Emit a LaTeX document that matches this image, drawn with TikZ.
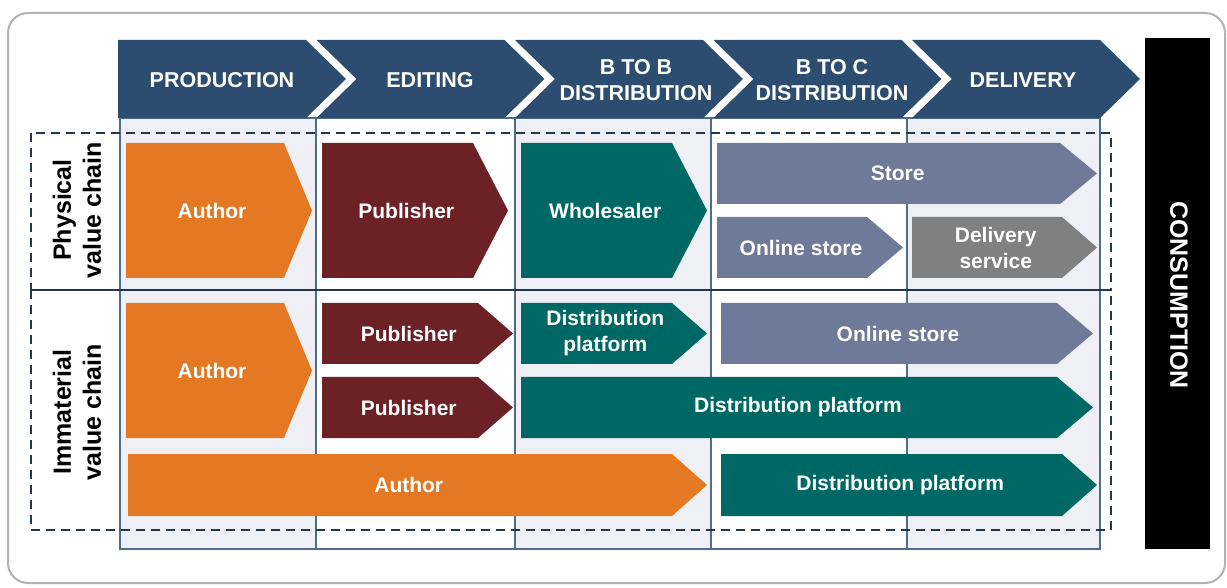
\documentclass[tikz,border=0pt]{standalone}
\usepackage{fontspec}
\setmainfont{Liberation Sans}
\usepackage{xcolor}
\usepackage{tikz}

\definecolor{headblue}{HTML}{2C4D6F}
\definecolor{colgray}{HTML}{EEF0F5}
\definecolor{colline}{HTML}{4F6C8C}
\definecolor{dashblue}{HTML}{22384F}
\definecolor{authorange}{HTML}{E47823}
\definecolor{pubred}{HTML}{6B2126}
\definecolor{distteal}{HTML}{006864}
\definecolor{storeslate}{HTML}{6F7A99}
\definecolor{delivgray}{HTML}{808080}

% chevron box: name, colour, left, top, body right, tip, bottom, text
\newcommand{\chevbox}[8]{%
  \fill[#2] (#3,#4) -- (#5,#4) -- (#6,{(#4+#7)/2}) -- (#5,#7) -- (#3,#7) -- cycle;
  \node[boxtext] (#1) at ({(#3+#5)/2+(#6-#5)/4},{(#4+#7)/2}) {#8};}

% header chevron with notch: name, left, text x, text
\newcommand{\headchev}[4]{%
  \fill[headblue] (#2,40) -- ({#2+188},40) -- ({#2+228},79) -- ({#2+188},118) -- (#2,118) -- ({#2+40},79) -- cycle;
  \node[headtext] (#1) at (#3,80) {#4};}

\begin{document}
\begin{tikzpicture}[x=0.5pt, y=-0.5pt,
    boxtext/.style={text=white, font=\bfseries\fontsize{10.5}{13}\selectfont, align=center, inner sep=0pt},
    headtext/.style={text=white, font=\bfseries\fontsize{10.75}{13}\selectfont, align=center, inner sep=0pt},
    rowlabel/.style={text=black, font=\bfseries\fontsize{12.5}{15}\selectfont, align=center, inner sep=0pt, rotate=90},
    column/.style={draw=colline, line width=0.6pt},
    chainbox/.style={draw=dashblue, line width=1pt, dash pattern=on 4.5pt off 3pt}]
        \useasboundingbox (0,0) rectangle (1227,588);

        % outer frame
        \draw[gray!60, line width=1pt, rounded corners=10pt] (8,13) rectangle (1225,583);

        % columns under the header
        \filldraw[column, fill=colgray] (120,118) rectangle (316,549);
        \filldraw[column, fill=white] (316,118) rectangle (515,549);
        \filldraw[column, fill=colgray] (515,118) rectangle (711,549);
        \filldraw[column, fill=white] (711,118) rectangle (907,549);
        \filldraw[column, fill=colgray] (907,118) rectangle (1100,549);

        % header
        \fill[headblue] (118,40) -- (306,40) -- (346,79) -- (306,118) -- (118,118) -- cycle;
        \node[headtext] (prod) at (222,80) {PRODUCTION};
        \headchev{edit}{316.5}{430}{EDITING}
        \headchev{btob}{515}{636}{B TO B\\DISTRIBUTION}
        \headchev{btoc}{713.5}{832}{B TO C\\DISTRIBUTION}
        \headchev{deliv}{912}{1023}{DELIVERY}

        % consumption
        \fill[black] (1145,38) rectangle (1210,549);
        \node[boxtext, font=\bfseries\fontsize{12.5}{15}\selectfont, rotate=-90] (cons) at (1179,295) {CONSUMPTION};

        % the two value chains
        \draw[chainbox] (31,133) rectangle (1111,290);
        \draw[chainbox] (31,290) rectangle (1111,530);
        \draw[dashblue, line width=1pt] (31,290) -- (1111,290);
        \node[rowlabel] (phys) at (77,210) {Physical\\value chain};
        \node[rowlabel] (imma) at (77,412) {Immaterial\\value chain};

        % physical value chain
        \chevbox{authP}{authorange}{126}{143}{284}{312}{278}{Author}
        \chevbox{pubP}{pubred}{322}{143}{473}{508}{278}{Publisher}
        \chevbox{wholeP}{distteal}{521}{143}{672}{707}{278}{Wholesaler}
        \chevbox{storeP}{storeslate}{717}{143}{1060}{1097}{204}{Store}
        \chevbox{onlineP}{storeslate}{717}{217}{867}{903}{278}{Online store}
        \chevbox{delivP}{delivgray}{912}{217}{1062}{1097}{278}{Delivery\\service}

        % immaterial value chain
        \chevbox{authI}{authorange}{126}{303}{284}{312}{438}{Author}
        \chevbox{pubIa}{pubred}{322}{303}{478}{513}{364}{Publisher}
        \chevbox{pubIb}{pubred}{322}{377}{478}{513}{438}{Publisher}
        \chevbox{distIa}{distteal}{521}{303}{672}{707}{364}{Distribution\\platform}
        \chevbox{onlineI}{storeslate}{721}{303}{1057}{1093}{364}{Online store}
        \chevbox{distIb}{distteal}{521}{377}{1057}{1093}{438}{Distribution platform}
        \chevbox{authIl}{authorange}{128}{454}{672}{707}{516}{Author}
        \chevbox{distIc}{distteal}{721}{454}{1062}{1097}{516}{Distribution platform}
    \end{tikzpicture}
\end{document}
